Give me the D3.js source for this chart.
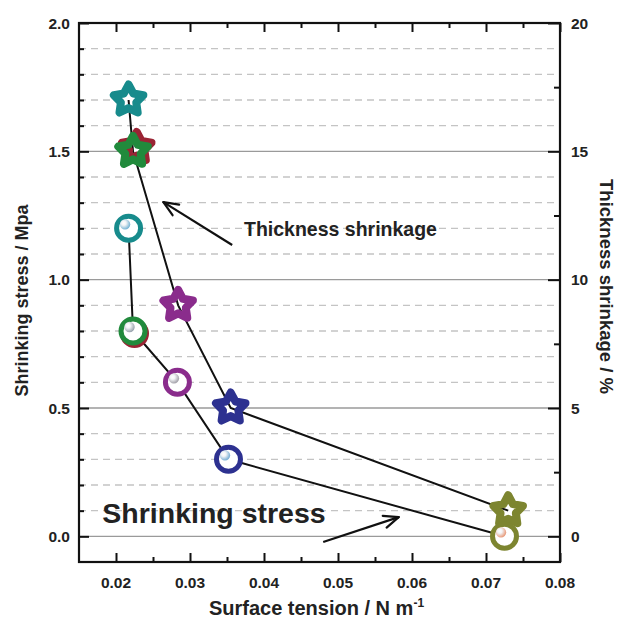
<!DOCTYPE html>
<html>
<head>
<meta charset="utf-8">
<script src="https://cdn.jsdelivr.net/npm/d3@7"></script>
<style>
  body { margin: 0; background: #fff; }
  text { font-family: "Liberation Sans", Arial, sans-serif; fill: #222; }
</style>
</head>
<body>
<div id="chart"></div>
<script>
// values
var pointColors    = ["#178b8c", "#218a3c", "#8a2c8c", "#2d3190", "#7d8530"];
var glossColors    = ["#78b4d4", "#9aa4ae", "#a4a2aa", "#78aed4", "#e89c7c"];
var circleTension  = [0.0217, 0.0223, 0.0283, 0.0352, 0.0725];
var shrinkStress   = [1.2, 0.8, 0.6, 0.3, 0.0];
var starTension    = [0.0217, 0.0223, 0.0284, 0.0355, 0.0730];
var thickShrink    = [17, 15, 9, 5, 1];
// red points hidden behind the green ones
var redCircle      = [0.0225, 0.79];
var redStar        = [0.0228, 15.15];
var redColor       = "#9a2434";

var xTicks          = [0.02, 0.03, 0.04, 0.05, 0.06, 0.07, 0.08];
var xMinorTicks     = [0.025, 0.035, 0.045, 0.055, 0.065, 0.075];
var leftTicks       = [0.0, 0.5, 1.0, 1.5, 2.0];
var leftMinorTicks  = [0.1, 0.2, 0.3, 0.4, 0.6, 0.7, 0.8, 0.9, 1.1, 1.2, 1.3, 1.4, 1.6, 1.7, 1.8, 1.9];
var rightTicks      = [0, 5, 10, 15, 20];
var rightMinorTicks = [2.5, 7.5, 12.5, 17.5];

var margin = {top: 23, right: 59, bottom: 63, left: 79};
var width  = 619 - margin.left - margin.right,
    height = 625 - margin.top - margin.bottom;

var svg = d3.select("#chart").append("svg")
    .attr("width", 619)
    .attr("height", 625)
  .append("g")
    .attr("transform", "translate(" + margin.left + "," + margin.top + ")");

// Scales
var x  = d3.scaleLinear().domain([0.015, 0.08]).range([0, width]);
var yL = d3.scaleLinear().domain([-0.1, 2.0]).range([height, 0]);
var yR = d3.scaleLinear().domain([-1, 20]).range([height, 0]);

// Grid lines
svg.selectAll(".grid-dash").data(leftMinorTicks).enter().append("line")
    .attr("x1", 0).attr("x2", width)
    .attr("y1", function(d){ return yL(d); })
    .attr("y2", function(d){ return yL(d); })
    .attr("stroke", "#c4c4c4").attr("stroke-width", 1.3)
    .attr("stroke-dasharray", "7,5");

svg.selectAll(".grid-solid").data(leftTicks.slice(0, 4)).enter().append("line")
    .attr("x1", 0).attr("x2", width)
    .attr("y1", function(d){ return yL(d); })
    .attr("y2", function(d){ return yL(d); })
    .attr("stroke", "#9a9a9a").attr("stroke-width", 1.4);

// Axes with inward ticks
function inward(axis, scale, ticks, size, pos) {
  var g = svg.append("g")
      .attr("transform", pos)
      .call(axis(scale).tickValues(ticks).tickSize(-size).tickFormat(""));
  g.select(".domain").remove();
  g.selectAll("line").attr("stroke", "#111").attr("stroke-width", 2);
  return g;
}
inward(d3.axisBottom, x, xTicks, 9, "translate(0," + height + ")");
inward(d3.axisBottom, x, xMinorTicks, 5, "translate(0," + height + ")");
inward(d3.axisTop, x, xTicks, 9, "translate(0,0)");
inward(d3.axisTop, x, xMinorTicks, 5, "translate(0,0)");
inward(d3.axisLeft, yL, leftTicks, 10, "translate(0,0)");
inward(d3.axisLeft, yL, leftMinorTicks, 5, "translate(0,0)");
inward(d3.axisRight, yR, rightTicks, 12, "translate(" + width + ",0)");
inward(d3.axisRight, yR, rightMinorTicks, 6, "translate(" + width + ",0)");

// Frame
svg.append("rect")
    .attr("width", width).attr("height", height)
    .attr("fill", "none").attr("stroke", "#111").attr("stroke-width", 2.2);

// Tick labels
svg.selectAll(".xlab").data(xTicks).enter().append("text")
    .attr("x", function(d){ return x(d); })
    .attr("y", height + 26)
    .attr("text-anchor", "middle")
    .style("font-size", "15.5px").style("font-weight", "bold")
    .text(d3.format(".2f"));

svg.selectAll(".ylab").data(leftTicks).enter().append("text")
    .attr("x", -9)
    .attr("y", function(d){ return yL(d); })
    .attr("dy", "0.36em")
    .attr("text-anchor", "end")
    .style("font-size", "15.5px").style("font-weight", "bold")
    .text(d3.format(".1f"));

svg.selectAll(".rlab").data(rightTicks).enter().append("text")
    .attr("x", width + 11)
    .attr("y", function(d){ return yR(d); })
    .attr("dy", "0.36em")
    .style("font-size", "15.5px").style("font-weight", "bold")
    .text(function(d){ return d; });

// Axis titles
svg.append("text")
    .attr("transform", "translate(" + (-57) + "," + (height / 2 + 8) + ")rotate(-90)")
    .attr("dy", "0.36em")
    .attr("text-anchor", "middle")
    .style("font-size", "18px").style("font-weight", "bold")
    .text("Shrinking stress / Mpa");

svg.append("text")
    .attr("transform", "translate(" + (width + 47) + "," + (height / 2 - 6) + ")rotate(90)")
    .attr("dy", "0.36em")
    .attr("text-anchor", "middle")
    .style("font-size", "18.5px").style("font-weight", "bold")
    .text("Thickness shrinkage / %");

var xt = svg.append("text")
    .attr("x", width / 2 - 3)
    .attr("y", height + 53)
    .attr("text-anchor", "middle")
    .style("font-size", "20px").style("font-weight", "bold");
xt.append("tspan").text("Surface tension / N m");
xt.append("tspan").attr("dy", "-8").style("font-size", "12px").text("-1");

// Annotations
function arrow(x1, y1, x2, y2) {
  var a = Math.atan2(y2 - y1, x2 - x1), len = 16, spread = 0.4;
  svg.append("line")
      .attr("x1", x1).attr("y1", y1).attr("x2", x2).attr("y2", y2)
      .attr("stroke", "#111").attr("stroke-width", 2.2);
  [-spread, spread].forEach(function(s){
    svg.append("line")
        .attr("x1", x2).attr("y1", y2)
        .attr("x2", x2 - len * Math.cos(a + s))
        .attr("y2", y2 - len * Math.sin(a + s))
        .attr("stroke", "#111").attr("stroke-width", 2.2).attr("stroke-linecap", "round");
  });
}
arrow(x(0.0357), yL(1.135), x(0.0264), yL(1.302));
arrow(x(0.0480), yL(-0.022), x(0.0582), yL(0.075));

svg.append("text")
    .attr("x", x(0.0373)).attr("y", yL(1.172))
    .style("font-size", "19.5px").style("font-weight", "bold")
    .text("Thickness shrinkage");

svg.append("text")
    .attr("x", x(0.01815)).attr("y", yL(0.053))
    .style("font-size", "28.5px").style("font-weight", "bold")
    .text("Shrinking stress");

// Markers
var starType = {
  draw: function(ctx, size) {
    var R = Math.sqrt(size), r = R * 0.52;
    for (var i = 0; i < 10; i++) {
      var ang = -Math.PI / 2 + i * Math.PI / 5, rr = i % 2 ? r : R;
      var px = rr * Math.cos(ang), py = rr * Math.sin(ang);
      if (i) ctx.lineTo(px, py); else ctx.moveTo(px, py);
    }
    ctx.closePath();
  }
};
var star = d3.symbol().type(starType).size(240);

var stars = starTension.map(function(t, i){ return {x: t, y: thickShrink[i], c: pointColors[i]}; });
var circles = circleTension.map(function(t, i){ return {x: t, y: shrinkStress[i], c: pointColors[i], g: i}; });
var starsAll = [{x: redStar[0], y: redStar[1], c: redColor}].concat(stars);
var circlesAll = [{x: redCircle[0], y: redCircle[1], c: redColor, g: 1}].concat(circles);

// white star bodies under the line
svg.selectAll(".star-fill").data(starsAll).enter().append("path")
    .attr("d", star)
    .attr("transform", function(d){ return "translate(" + x(d.x) + "," + yR(d.y) + ")"; })
    .attr("fill", "#fff");

var line = d3.line();
svg.append("path")
    .attr("d", line(stars.map(function(d){ return [x(d.x), yR(d.y)]; })))
    .attr("fill", "none").attr("stroke", "#111").attr("stroke-width", 2);
svg.append("path")
    .attr("d", line(circles.map(function(d){ return [x(d.x), yL(d.y)]; })))
    .attr("fill", "none").attr("stroke", "#111").attr("stroke-width", 2);

svg.selectAll(".star").data(starsAll).enter().append("path")
    .attr("d", star)
    .attr("transform", function(d){ return "translate(" + x(d.x) + "," + yR(d.y) + ")"; })
    .attr("fill", "none")
    .attr("stroke", function(d){ return d.c; })
    .attr("stroke-width", 8)
    .attr("stroke-linejoin", "round");

// glossy balls
var defs = svg.append("defs");
glossColors.forEach(function(c, i){
  var grad = defs.append("radialGradient").attr("id", "gloss" + i)
      .attr("cx", "38%").attr("cy", "38%").attr("r", "62%");
  grad.append("stop").attr("offset", "0%").attr("stop-color", "#fff");
  grad.append("stop").attr("offset", "35%").attr("stop-color", "#f2f4f6");
  grad.append("stop").attr("offset", "100%").attr("stop-color", c);
});

var ring = svg.selectAll(".ring").data(circlesAll).enter().append("g")
    .attr("transform", function(d){ return "translate(" + x(d.x) + "," + yL(d.y) + ")"; });
ring.append("circle")
    .attr("r", 12)
    .attr("fill", "#fff")
    .attr("stroke", function(d){ return d.c; })
    .attr("stroke-width", 5);
ring.append("circle")
    .attr("cx", -3.5).attr("cy", -4).attr("r", 5.2)
    .attr("fill", function(d){ return "url(#gloss" + d.g + ")"; });
</script>
</body>
</html>
